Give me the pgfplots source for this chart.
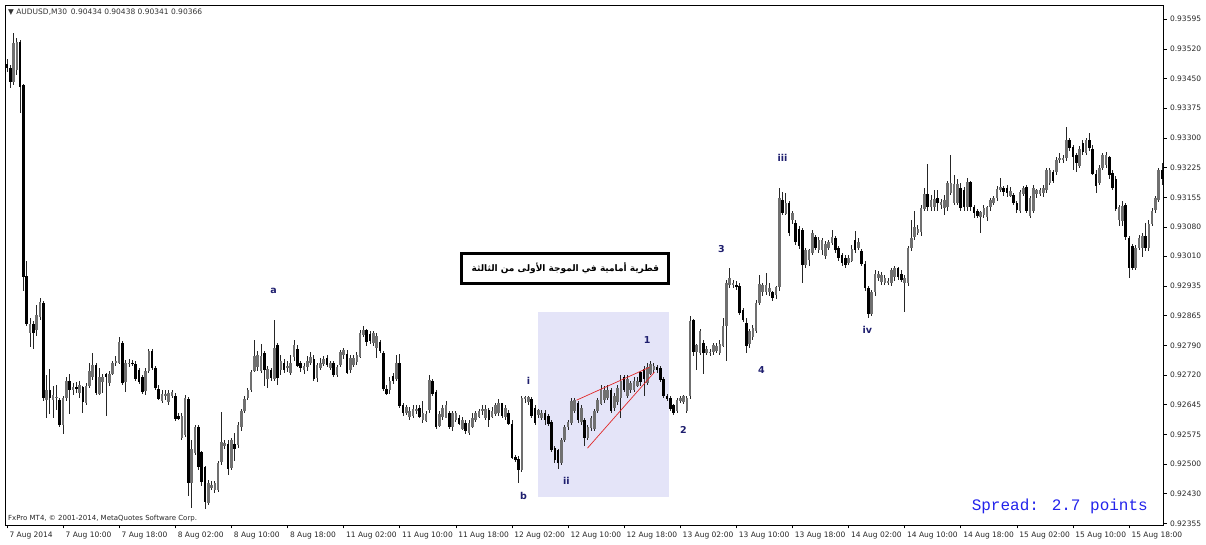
\documentclass[border=0pt]{standalone}
\usepackage{fontspec}
\setmainfont{DejaVu Sans}
\newfontfamily\arabicfont[Script=Arabic]{DejaVu Sans}
\newfontfamily\spreadfont{Liberation Mono}
\usepackage{pgfplots}
\usepackage{pgfplotstable}
\pgfplotsset{compat=1.18}
\TeXXeTstate=1
\definecolor{wavecol}{RGB}{30,30,110}
\definecolor{spreadblue}{RGB}{35,35,235}
\definecolor{zonefill}{RGB}{228,228,248}
\definecolor{wedgered}{RGB}{225,40,40}
\definecolor{bullgray}{RGB}{112,112,112}

% AUDUSD M30 candles: open high low close
\pgfplotstableread{
o h l c
0.93485 0.93499 0.93465 0.93475
0.93475 0.93482 0.93426 0.93440
0.93440 0.93563 0.93435 0.93536
0.93470 0.93549 0.93457 0.93539
0.93539 0.93544 0.93366 0.93428
0.93433 0.93438 0.92929 0.92961
0.92965 0.93002 0.92842 0.92847
0.92823 0.92860 0.92788 0.92847
0.92847 0.92855 0.92786 0.92823
0.92830 0.92892 0.92818 0.92867
0.92862 0.92909 0.92855 0.92899
0.92899 0.92904 0.92658 0.92665
0.92658 0.92720 0.92614 0.92683
0.92683 0.92737 0.92626 0.92665
0.92658 0.92695 0.92616 0.92670
0.92665 0.92695 0.92633 0.92668
0.92658 0.92663 0.92592 0.92597
0.92597 0.92670 0.92577 0.92665
0.92665 0.92717 0.92658 0.92707
0.92707 0.92724 0.92626 0.92683
0.92683 0.92700 0.92670 0.92690
0.92690 0.92702 0.92675 0.92688
0.92675 0.92707 0.92665 0.92695
0.92690 0.92695 0.92628 0.92653
0.92653 0.92702 0.92646 0.92695
0.92695 0.92751 0.92688 0.92732
0.92715 0.92774 0.92707 0.92744
0.92744 0.92749 0.92670 0.92675
0.92675 0.92737 0.92670 0.92715
0.92702 0.92724 0.92675 0.92715
0.92724 0.92727 0.92621 0.92715
0.92702 0.92732 0.92695 0.92724
0.92724 0.92756 0.92720 0.92751
0.92751 0.92769 0.92744 0.92756
0.92751 0.92813 0.92747 0.92801
0.92801 0.92806 0.92697 0.92702
0.92702 0.92756 0.92678 0.92749
0.92749 0.92761 0.92742 0.92751
0.92751 0.92756 0.92742 0.92749
0.92749 0.92756 0.92707 0.92712
0.92732 0.92737 0.92697 0.92702
0.92715 0.92720 0.92673 0.92678
0.92683 0.92737 0.92670 0.92732
0.92732 0.92786 0.92727 0.92781
0.92781 0.92786 0.92732 0.92737
0.92737 0.92742 0.92683 0.92688
0.92688 0.92695 0.92658 0.92663
0.92658 0.92683 0.92653 0.92675
0.92670 0.92683 0.92658 0.92673
0.92653 0.92683 0.92646 0.92675
0.92670 0.92683 0.92665 0.92678
0.92670 0.92678 0.92609 0.92614
0.92621 0.92628 0.92609 0.92614
0.92567 0.92628 0.92560 0.92621
0.92572 0.92670 0.92567 0.92665
0.92663 0.92668 0.92424 0.92456
0.92456 0.92560 0.92392 0.92540
0.92530 0.92597 0.92523 0.92592
0.92592 0.92597 0.92486 0.92493
0.92530 0.92535 0.92449 0.92456
0.92493 0.92498 0.92392 0.92407
0.92407 0.92461 0.92400 0.92456
0.92442 0.92461 0.92437 0.92449
0.92437 0.92461 0.92432 0.92454
0.92437 0.92510 0.92432 0.92505
0.92505 0.92628 0.92498 0.92555
0.92547 0.92560 0.92540 0.92552
0.92552 0.92560 0.92474 0.92491
0.92491 0.92565 0.92486 0.92560
0.92552 0.92579 0.92510 0.92540
0.92547 0.92604 0.92540 0.92597
0.92592 0.92638 0.92584 0.92633
0.92633 0.92670 0.92628 0.92663
0.92663 0.92688 0.92658 0.92683
0.92683 0.92732 0.92678 0.92727
0.92732 0.92806 0.92727 0.92769
0.92739 0.92781 0.92732 0.92769
0.92732 0.92798 0.92727 0.92769
0.92774 0.92781 0.92695 0.92732
0.92712 0.92744 0.92688 0.92737
0.92732 0.92739 0.92707 0.92712
0.92712 0.92855 0.92707 0.92788
0.92793 0.92798 0.92695 0.92712
0.92732 0.92769 0.92720 0.92756
0.92751 0.92761 0.92727 0.92732
0.92739 0.92756 0.92727 0.92742
0.92727 0.92769 0.92720 0.92751
0.92764 0.92806 0.92756 0.92793
0.92786 0.92793 0.92739 0.92744
0.92749 0.92756 0.92727 0.92737
0.92732 0.92751 0.92724 0.92744
0.92739 0.92769 0.92732 0.92756
0.92751 0.92776 0.92744 0.92764
0.92761 0.92769 0.92707 0.92712
0.92712 0.92749 0.92702 0.92744
0.92739 0.92761 0.92732 0.92751
0.92749 0.92769 0.92744 0.92761
0.92761 0.92769 0.92739 0.92744
0.92739 0.92756 0.92732 0.92751
0.92749 0.92756 0.92715 0.92720
0.92720 0.92744 0.92715 0.92739
0.92744 0.92781 0.92739 0.92776
0.92769 0.92788 0.92761 0.92781
0.92774 0.92781 0.92724 0.92727
0.92732 0.92769 0.92727 0.92761
0.92744 0.92769 0.92739 0.92761
0.92751 0.92776 0.92744 0.92769
0.92764 0.92830 0.92761 0.92823
0.92818 0.92842 0.92813 0.92830
0.92830 0.92835 0.92793 0.92801
0.92823 0.92830 0.92798 0.92806
0.92798 0.92830 0.92793 0.92823
0.92788 0.92823 0.92761 0.92818
0.92801 0.92806 0.92776 0.92781
0.92776 0.92781 0.92683 0.92688
0.92688 0.92695 0.92670 0.92675
0.92683 0.92715 0.92675 0.92707
0.92720 0.92727 0.92700 0.92707
0.92712 0.92769 0.92707 0.92751
0.92751 0.92774 0.92641 0.92646
0.92646 0.92653 0.92621 0.92628
0.92626 0.92646 0.92621 0.92641
0.92616 0.92641 0.92609 0.92633
0.92621 0.92646 0.92614 0.92638
0.92633 0.92646 0.92626 0.92638
0.92638 0.92646 0.92614 0.92616
0.92609 0.92658 0.92604 0.92628
0.92609 0.92633 0.92604 0.92626
0.92633 0.92720 0.92628 0.92707
0.92707 0.92712 0.92670 0.92675
0.92678 0.92683 0.92589 0.92592
0.92597 0.92633 0.92592 0.92626
0.92616 0.92646 0.92609 0.92638
0.92616 0.92658 0.92614 0.92646
0.92628 0.92633 0.92589 0.92592
0.92592 0.92633 0.92584 0.92626
0.92609 0.92633 0.92604 0.92628
0.92616 0.92621 0.92597 0.92601
0.92589 0.92616 0.92584 0.92609
0.92604 0.92609 0.92577 0.92584
0.92577 0.92609 0.92572 0.92601
0.92592 0.92626 0.92589 0.92616
0.92609 0.92633 0.92604 0.92628
0.92616 0.92638 0.92614 0.92633
0.92633 0.92646 0.92621 0.92638
0.92614 0.92646 0.92609 0.92638
0.92633 0.92638 0.92592 0.92609
0.92616 0.92641 0.92614 0.92633
0.92626 0.92653 0.92621 0.92646
0.92628 0.92663 0.92621 0.92651
0.92651 0.92653 0.92616 0.92621
0.92616 0.92646 0.92609 0.92638
0.92626 0.92633 0.92597 0.92601
0.92601 0.92609 0.92515 0.92518
0.92518 0.92523 0.92505 0.92510
0.92515 0.92523 0.92456 0.92486
0.92486 0.92668 0.92481 0.92663
0.92663 0.92670 0.92653 0.92665
0.92653 0.92670 0.92646 0.92665
0.92663 0.92668 0.92614 0.92621
0.92638 0.92646 0.92597 0.92601
0.92621 0.92638 0.92614 0.92633
0.92616 0.92633 0.92609 0.92628
0.92628 0.92633 0.92597 0.92609
0.92621 0.92626 0.92597 0.92601
0.92604 0.92609 0.92530 0.92535
0.92540 0.92547 0.92505 0.92510
0.92535 0.92540 0.92491 0.92503
0.92503 0.92565 0.92498 0.92560
0.92560 0.92597 0.92555 0.92592
0.92592 0.92609 0.92584 0.92604
0.92604 0.92663 0.92597 0.92658
0.92633 0.92663 0.92626 0.92658
0.92653 0.92658 0.92604 0.92609
0.92604 0.92646 0.92597 0.92638
0.92609 0.92614 0.92547 0.92565
0.92565 0.92597 0.92560 0.92592
0.92589 0.92621 0.92584 0.92614
0.92589 0.92638 0.92584 0.92633
0.92633 0.92663 0.92628 0.92658
0.92651 0.92695 0.92646 0.92688
0.92658 0.92695 0.92653 0.92683
0.92663 0.92695 0.92658 0.92683
0.92683 0.92688 0.92628 0.92633
0.92641 0.92678 0.92633 0.92670
0.92653 0.92695 0.92646 0.92688
0.92665 0.92720 0.92614 0.92707
0.92715 0.92720 0.92678 0.92683
0.92670 0.92720 0.92663 0.92712
0.92683 0.92707 0.92678 0.92700
0.92683 0.92715 0.92678 0.92707
0.92695 0.92715 0.92690 0.92707
0.92727 0.92732 0.92695 0.92702
0.92737 0.92744 0.92670 0.92712
0.92700 0.92749 0.92695 0.92739
0.92724 0.92756 0.92720 0.92749
0.92732 0.92751 0.92727 0.92744
0.92739 0.92744 0.92724 0.92732
0.92737 0.92742 0.92702 0.92707
0.92712 0.92717 0.92665 0.92670
0.92670 0.92675 0.92658 0.92663
0.92663 0.92668 0.92633 0.92638
0.92646 0.92651 0.92624 0.92628
0.92633 0.92663 0.92628 0.92658
0.92658 0.92670 0.92653 0.92665
0.92653 0.92670 0.92648 0.92668
0.92633 0.92670 0.92628 0.92665
0.92670 0.92867 0.92663 0.92855
0.92855 0.92860 0.92769 0.92776
0.92776 0.92798 0.92732 0.92793
0.92776 0.92835 0.92769 0.92830
0.92798 0.92806 0.92724 0.92774
0.92776 0.92793 0.92769 0.92786
0.92776 0.92786 0.92769 0.92779
0.92776 0.92798 0.92769 0.92793
0.92781 0.92801 0.92776 0.92793
0.92776 0.92806 0.92769 0.92798
0.92793 0.92860 0.92788 0.92842
0.92842 0.92953 0.92756 0.92948
0.92941 0.92983 0.92934 0.92958
0.92941 0.92953 0.92934 0.92946
0.92941 0.92953 0.92929 0.92936
0.92941 0.92946 0.92867 0.92874
0.92879 0.92884 0.92850 0.92855
0.92850 0.92860 0.92774 0.92793
0.92798 0.92835 0.92788 0.92830
0.92813 0.92842 0.92806 0.92835
0.92830 0.92904 0.92823 0.92899
0.92899 0.92966 0.92892 0.92946
0.92924 0.92946 0.92916 0.92941
0.92924 0.92970 0.92916 0.92941
0.92924 0.92946 0.92916 0.92936
0.92924 0.92929 0.92904 0.92911
0.92916 0.92941 0.92909 0.92936
0.92936 0.93182 0.92929 0.93155
0.93150 0.93170 0.93113 0.93118
0.93118 0.93167 0.93113 0.93145
0.93143 0.93150 0.93064 0.93071
0.93101 0.93125 0.93093 0.93118
0.93093 0.93101 0.93039 0.93047
0.93081 0.93088 0.93032 0.93039
0.93076 0.93081 0.92946 0.92990
0.92990 0.93032 0.92983 0.93027
0.93002 0.93032 0.92990 0.93027
0.93020 0.93076 0.93015 0.93069
0.93059 0.93064 0.93027 0.93032
0.93027 0.93059 0.93020 0.93052
0.93027 0.93057 0.93015 0.93052
0.93015 0.93052 0.93007 0.93044
0.93034 0.93052 0.93027 0.93047
0.93044 0.93076 0.93039 0.93059
0.93057 0.93064 0.93022 0.93027
0.93034 0.93039 0.93002 0.93010
0.93015 0.93020 0.92990 0.92997
0.93007 0.93015 0.92983 0.92990
0.92995 0.93015 0.92990 0.93007
0.93002 0.93039 0.92997 0.93032
0.93052 0.93076 0.93022 0.93027
0.93032 0.93057 0.93027 0.93047
0.93027 0.93032 0.92990 0.92995
0.92995 0.93002 0.92929 0.92936
0.92936 0.92941 0.92862 0.92872
0.92872 0.92929 0.92867 0.92924
0.92924 0.92978 0.92916 0.92970
0.92961 0.92978 0.92953 0.92970
0.92948 0.92973 0.92941 0.92966
0.92948 0.92966 0.92941 0.92961
0.92948 0.92958 0.92941 0.92951
0.92946 0.92983 0.92941 0.92978
0.92961 0.92990 0.92953 0.92985
0.92983 0.92985 0.92953 0.92961
0.92970 0.92978 0.92948 0.92953
0.92948 0.92966 0.92874 0.92961
0.92948 0.93039 0.92941 0.93034
0.93034 0.93101 0.93027 0.93059
0.93059 0.93125 0.93052 0.93084
0.93069 0.93088 0.93064 0.93081
0.93071 0.93138 0.93064 0.93130
0.93130 0.93180 0.93125 0.93167
0.93167 0.93241 0.93125 0.93133
0.93133 0.93162 0.93125 0.93150
0.93133 0.93175 0.93125 0.93155
0.93155 0.93175 0.93125 0.93143
0.93138 0.93155 0.93130 0.93145
0.93130 0.93162 0.93113 0.93150
0.93133 0.93199 0.93125 0.93192
0.93167 0.93261 0.93162 0.93192
0.93145 0.93212 0.93138 0.93192
0.93145 0.93204 0.93138 0.93192
0.93182 0.93192 0.93125 0.93133
0.93175 0.93182 0.93125 0.93133
0.93133 0.93204 0.93125 0.93194
0.93194 0.93199 0.93125 0.93133
0.93133 0.93138 0.93106 0.93120
0.93125 0.93130 0.93106 0.93113
0.93108 0.93125 0.93071 0.93120
0.93113 0.93138 0.93106 0.93130
0.93108 0.93138 0.93101 0.93133
0.93133 0.93157 0.93125 0.93150
0.93145 0.93162 0.93138 0.93157
0.93157 0.93187 0.93150 0.93180
0.93175 0.93204 0.93170 0.93182
0.93182 0.93187 0.93162 0.93170
0.93180 0.93187 0.93157 0.93167
0.93162 0.93182 0.93157 0.93175
0.93162 0.93167 0.93138 0.93143
0.93143 0.93150 0.93120 0.93125
0.93125 0.93175 0.93120 0.93170
0.93167 0.93187 0.93162 0.93182
0.93182 0.93187 0.93120 0.93125
0.93113 0.93162 0.93108 0.93157
0.93125 0.93187 0.93120 0.93180
0.93167 0.93180 0.93157 0.93175
0.93167 0.93180 0.93162 0.93175
0.93167 0.93187 0.93157 0.93180
0.93175 0.93229 0.93167 0.93224
0.93194 0.93229 0.93187 0.93224
0.93219 0.93224 0.93194 0.93199
0.93219 0.93256 0.93212 0.93248
0.93248 0.93266 0.93243 0.93253
0.93248 0.93261 0.93243 0.93253
0.93253 0.93330 0.93248 0.93298
0.93298 0.93305 0.93273 0.93280
0.93280 0.93285 0.93224 0.93256
0.93261 0.93266 0.93219 0.93241
0.93236 0.93285 0.93231 0.93278
0.93290 0.93298 0.93261 0.93268
0.93268 0.93305 0.93261 0.93298
0.93298 0.93317 0.93273 0.93280
0.93278 0.93285 0.93212 0.93216
0.93216 0.93224 0.93167 0.93187
0.93192 0.93236 0.93187 0.93229
0.93229 0.93266 0.93224 0.93261
0.93236 0.93268 0.93229 0.93261
0.93256 0.93261 0.93204 0.93212
0.93219 0.93224 0.93175 0.93182
0.93204 0.93212 0.93125 0.93130
0.93101 0.93138 0.93088 0.93133
0.93101 0.93150 0.93088 0.93138
0.93138 0.93143 0.93052 0.93059
0.93059 0.93064 0.92961 0.92985
0.93039 0.93044 0.92978 0.92985
0.92985 0.93039 0.92978 0.93034
0.93034 0.93064 0.93027 0.93059
0.93034 0.93069 0.93010 0.93064
0.93064 0.93096 0.93027 0.93034
0.93032 0.93101 0.93027 0.93093
0.93093 0.93133 0.93088 0.93125
0.93125 0.93162 0.93120 0.93155
0.93150 0.93229 0.93145 0.93224
0.93224 0.93243 0.93187 0.93204
}\candles

\begin{document}
\begin{tikzpicture}
\begin{axis}[
  at={(0,0)}, anchor=south west,
  scale only axis, width=1158bp, height=520bp,
  xmin=-0.6, xmax=350.3,
  ymin=0.92351, ymax=0.93630,
  axis line style={black, line width=0.8bp},
  tick align=outside, major tick length=3.5bp,
  tick style={black, line width=0.6bp},
  xtick pos=bottom, ytick pos=right, yticklabel pos=right,
  xtick={0,17,...,340},
  xticklabels={7 Aug 2014, 7 Aug 10:00, 7 Aug 18:00, 8 Aug 02:00, 8 Aug 10:00, 8 Aug 18:00, 11 Aug 02:00, 11 Aug 10:00, 11 Aug 18:00, 12 Aug 02:00, 12 Aug 10:00, 12 Aug 18:00, 13 Aug 02:00, 13 Aug 10:00, 13 Aug 18:00, 14 Aug 02:00, 14 Aug 10:00, 14 Aug 18:00, 15 Aug 02:00, 15 Aug 10:00, 15 Aug 18:00},
  ytick={0.92355,0.92428,0.92501,0.92574,0.92647,0.92720,0.92793,0.92866,0.92939,0.93012,0.93084,0.93157,0.93230,0.93303,0.93376,0.93449,0.93522,0.93595},
  yticklabels={0.92355,0.92430,0.92500,0.92575,0.92645,0.92720,0.92790,0.92865,0.92935,0.93010,0.93080,0.93155,0.93225,0.93300,0.93375,0.93450,0.93520,0.93595},
  ticklabel style={font=\fontsize{7.5bp}{9bp}\selectfont, text=black!85},
  xticklabel style={anchor=north west, xshift=-1bp},
  yticklabel style={anchor=west},
  candle/.style={only marks, mark=none, mark size=0pt,
    mark options={draw opacity=0, fill opacity=0}, forget plot},
]
% shaded zone around waves i-ii-1
\fill[zonefill] (axis cs:160.8,0.92419) rectangle (axis cs:200.7,0.92874);

% wicks
\addplot[candle,
  error bars/.cd, y dir=both, y explicit, error mark=none,
  error bar style={line width=0.8bp, black!85}]
  table[x expr=\coordindex, y expr={(\thisrow{h}+\thisrow{l})/2},
        y error expr={(\thisrow{h}-\thisrow{l})/2}] {\candles};
% bull bodies (bear rows are sent below the axis and clipped)
\addplot[candle,
  error bars/.cd, y dir=both, y explicit, error mark=none,
  error bar style={line width=2.6bp, bullgray, line cap=butt}]
  table[x expr=\coordindex,
        y expr={(1-(\thisrow{c}<\thisrow{o}))*(\thisrow{o}+\thisrow{c})/2+(\thisrow{c}<\thisrow{o})*0.9},
        y error expr={max(abs(\thisrow{c}-\thisrow{o})/2,0.000012)}] {\candles};
% bear bodies (bull rows are sent below the axis and clipped)
\addplot[candle,
  error bars/.cd, y dir=both, y explicit, error mark=none,
  error bar style={line width=2.6bp, black, line cap=butt}]
  table[x expr=\coordindex,
        y expr={(\thisrow{c}<\thisrow{o})*(\thisrow{o}+\thisrow{c})/2+(1-(\thisrow{c}<\thisrow{o}))*0.9},
        y error expr={max(abs(\thisrow{o}-\thisrow{c})/2,0.000012)}] {\candles};

% wedge
\draw[wedgered, line width=0.7bp] (axis cs:172.6,0.92658) -- (axis cs:194.7,0.92739);
\draw[wedgered, line width=0.7bp] (axis cs:175.9,0.92540) -- (axis cs:196.2,0.92727);

% wave labels
\tikzset{wave/.style={text=wavecol, font=\bfseries\fontsize{9.5bp}{10bp}\selectfont, inner sep=0pt}}
\node[wave] at (axis cs:80.8,0.92926) {a};
\node[wave] at (axis cs:156.5,0.92422) {b};
\node[wave] at (axis cs:158,0.92705) {i};
\node[wave] at (axis cs:169.5,0.92459) {ii};
\node[wave] at (axis cs:194,0.92806) {1};
\node[wave] at (axis cs:205,0.92584) {2};
\node[wave] at (axis cs:216.5,0.93030) {3};
\node[wave] at (axis cs:228.6,0.92732) {4};
\node[wave] at (axis cs:235,0.93253) {iii};
\node[wave] at (axis cs:260.7,0.92830) {iv};

% comment box
\node[draw=black, line width=3bp, fill=white, minimum width=207bp, minimum height=30bp, inner sep=0pt]
  at (axis cs:169.2,0.92983)
  {\arabicfont\bfseries\fontsize{9bp}{11bp}\selectfont\beginR قطرية أمامية في الموجة الأولى من الثالثة\endR};
\end{axis}

\node[anchor=west, font=\fontsize{7.5bp}{9bp}\selectfont, text=black!80, inner sep=0pt]
  at (3bp,513bp) {▼ AUDUSD,M30\enspace 0.90434 0.90438 0.90341 0.90366};
\node[anchor=west, font=\fontsize{7bp}{8bp}\selectfont, text=black!85, inner sep=0pt]
  at (3bp,6bp) {FxPro MT4, © 2001-2014, MetaQuotes Software Corp.};
\node[anchor=east, font=\spreadfont\fontsize{16bp}{18bp}\selectfont, text=spreadblue, inner sep=0pt]
  at (1143bp,19bp) {Spread: 2.7 points};

\pgfresetboundingbox
\path[use as bounding box] (-5bp,-20bp) rectangle (1201bp,525bp);
\end{tikzpicture}
\end{document}
